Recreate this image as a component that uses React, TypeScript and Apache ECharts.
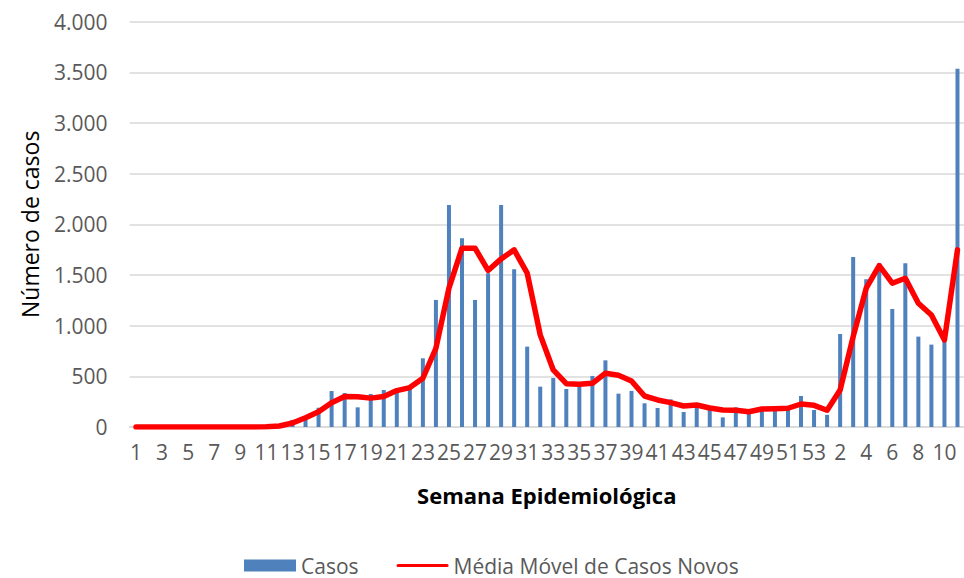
import React, { useEffect, useRef } from "react";
import * as echarts from "echarts";

const weeks2020: string[] = Array.from({ length: 53 }, (_, i) => String(i + 1));
const weeks2021: string[] = ["1", "2", "3", "4", "5", "6", "7", "8", "9", "10", "11"];
const categories: string[] = [...weeks2020, ...weeks2021];

const casos: number[] = [
  0, 0, 0, 0, 0, 0, 0, 0, 0, 0, 10, 30, 70, 108, 190, 355, 335, 194, 326, 365,
  345, 382, 678, 1254, 2190, 1864, 1254, 1518, 2190, 1557, 793, 398, 484, 375, 410, 504,
  658, 329, 356, 234, 188, 273, 148, 200, 168, 95, 194, 155, 168, 207, 194, 306, 168,
  120, 918, 1679, 1459, 1617, 1165, 1617, 892, 813, 870, 3536,
];

const mediaMovel: number[] = [
  0, 0, 0, 0, 0, 0, 0, 0, 0, 0, 3, 10, 40, 92, 151, 240, 300, 298, 285, 300,
  359, 389, 481, 777, 1370, 1765, 1765, 1545, 1659, 1748, 1518, 909, 563, 428, 422, 431,
  530, 510, 454, 306, 267, 240, 207, 217, 188, 168, 165, 151, 178, 181, 185, 227, 214,
  165, 365, 892, 1370, 1593, 1419, 1468, 1222, 1106, 859, 1748,
];

const yTicks: number[] = [0, 500, 1000, 1500, 2000, 2500, 3000, 3500, 4000];

const FONT = "'Open Sans', 'Noto Sans', sans-serif";
const GRAY = "#595959";
const LINE_ICON = "path://M3,0 H101 A3,3 0 0 1 101,6 H3 A3,3 0 0 1 3,0 Z";

function fmt(v: number): string {
  return String(v).replace(/\B(?=(\d{3})+(?!\d))/g, ".");
}

export default function App() {
  const ref = useRef<HTMLDivElement>(null);
  useEffect(() => {
    if (!ref.current) return;
    const chart = echarts.init(ref.current, undefined, { renderer: "svg" });
    chart.setOption({
      animation: false,
      backgroundColor: "#ffffff",
      textStyle: { fontFamily: FONT },
      grid: { left: 129.5, width: 837, top: 21.7, height: 405.3, containLabel: false },
      legend: {
        left: 244,
        top: 555,
        padding: 0,
        itemGap: 38,
        itemWidth: 52,
        itemHeight: 12,
        textStyle: { fontFamily: FONT, fontSize: 21, color: GRAY },
        data: [
          { name: "Casos", icon: "rect" },
          { name: "Média Móvel de Casos Novos", icon: LINE_ICON, itemStyle: { color: "#ff0000", borderWidth: 0 } },
        ],
      },
      xAxis: {
        type: "category",
        data: categories,
        boundaryGap: true,
        name: "Semana Epidemiológica",
        nameLocation: "middle",
        nameGap: 57,
        nameTextStyle: { fontFamily: FONT, fontSize: 22, fontWeight: "bold", color: "#000000" },
        axisTick: { show: false },
        axisLine: { show: true, lineStyle: { color: "#d9d9d9", width: 1.5 } },
        axisLabel: {
          interval: 1,
          hideOverlap: false,
          fontFamily: FONT,
          fontSize: 21,
          color: GRAY,
          margin: 14,
        },
      },
      yAxis: {
        type: "value",
        min: yTicks[0],
        max: yTicks[yTicks.length - 1],
        interval: yTicks[1] - yTicks[0],
        name: "Número de casos",
        nameLocation: "middle",
        nameGap: 88,
        nameTextStyle: { fontFamily: FONT, fontSize: 23, color: "#000000" },
        axisLine: { show: false },
        axisTick: { show: false },
        splitLine: { show: true, lineStyle: { color: "#d9d9d9", width: 1.5 } },
        axisLabel: {
          fontFamily: FONT,
          fontSize: 21,
          color: GRAY,
          margin: 22,
          formatter: (v: number) => fmt(v),
        },
      },
      series: [
        {
          name: "Casos",
          type: "bar",
          data: casos,
          barWidth: 4,
          itemStyle: { color: "#4f81bd" },
          z: 2,
        },
        {
          name: "Média Móvel de Casos Novos",
          type: "line",
          data: mediaMovel,
          symbol: "none",
          smooth: false,
          lineStyle: { color: "#ff0000", width: 5.5, join: "round", cap: "round" },
          itemStyle: { color: "#ff0000" },
          z: 3,
        },
      ],
    });
    return () => chart.dispose();
  }, []);
  return (
    <div
      ref={ref}
      style={{ position: "absolute", left: 0, top: 0, width: 964, height: 578, background: "#fff" }}
    />
  );
}
